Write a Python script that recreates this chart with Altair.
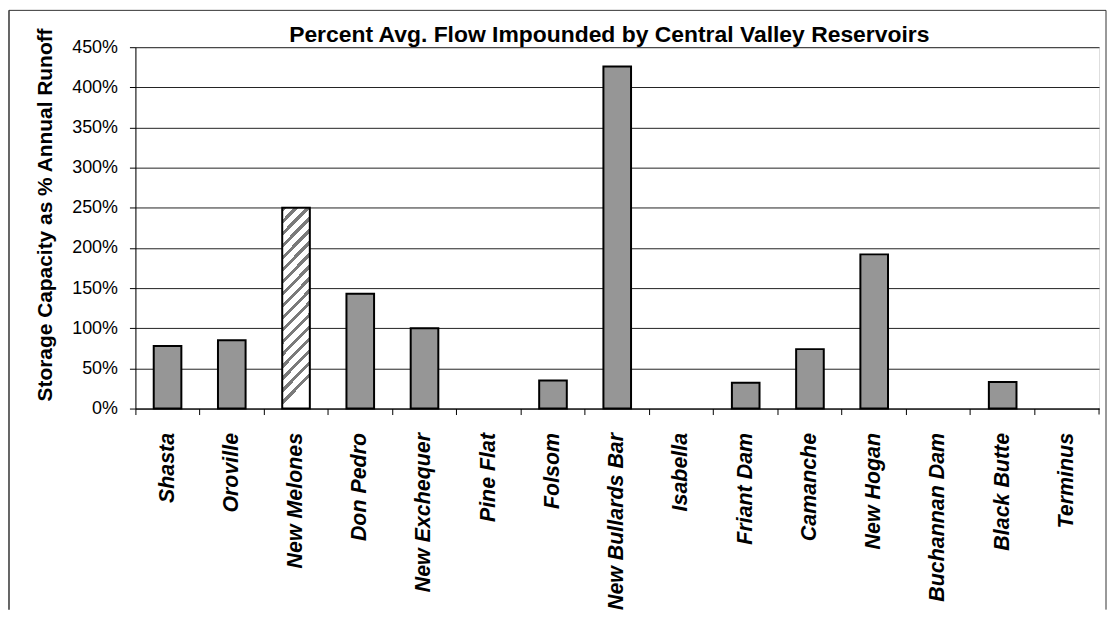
import altair as alt
import pandas as pd

# ---- data ----
reservoirs = ["Shasta", "Oroville", "New Melones", "Don Pedro", "New Exchequer",
              "Pine Flat", "Folsom", "New Bullards Bar", "Isabella", "Friant Dam",
              "Camanche", "New Hogan", "Buchannan Dam", "Black Butte", "Terminus"]
pct_runoff = [0.78, 0.85, 2.50, 1.43, 1.00, 0.0, 0.35, 4.26, 0.0, 0.32,
              0.74, 1.92, 0.0, 0.33, 0.0]
hatched_names = ["New Melones"]
y_tick_values = [0.0, 0.5, 1.0, 1.5, 2.0, 2.5, 3.0, 3.5, 4.0, 4.5]
chart_title = "Percent Avg. Flow Impounded by Central Valley Reservoirs"
y_title = "Storage Capacity as % Annual Runoff"

# ---- layout / style ----
W, H = 968, 363
FONT = "Liberation Sans"
BAR_FILL = "#969696"

df = pd.DataFrame({"reservoir": reservoirs, "pct": pct_runoff})
df["hatched"] = df["reservoir"].isin(hatched_names)

# diagonal hatch imitation using a hard-stop linear gradient (styling only)
stops = []
n_stripes = 17
for i in range(n_stripes):
    a = i / n_stripes
    b = (i + 0.38) / n_stripes
    c = (i + 1) / n_stripes
    stops += [{"offset": a, "color": "#7a7a7a"}, {"offset": b, "color": "#7a7a7a"},
              {"offset": b, "color": "#ffffff"}, {"offset": c, "color": "#ffffff"}]
hatch_fill = {"gradient": "linear", "x1": 0, "y1": 0, "x2": 0.14, "y2": 1, "stops": stops}

x_enc = alt.X(
    "reservoir:N",
    scale=alt.Scale(domain=reservoirs, paddingInner=0, paddingOuter=0),
    axis=alt.Axis(
        title=None, labelAngle=-90, labelAlign="right", labelBaseline="middle",
        labelFont=FONT, labelFontSize=21.5, labelFontWeight="bold", labelFontStyle="italic",
        labelColor="black", labelPadding=18, labelLimit=400, tickSize=6, tickColor="black",
        domainColor="black", bandPosition=0, grid=False,
    ),
)
y_enc = alt.Y(
    "pct:Q",
    scale=alt.Scale(domain=[0, 4.5], nice=False),
    axis=alt.Axis(
        values=y_tick_values, format=".0%", title=y_title,
        titleFont=FONT, titleFontSize=21, titleFontWeight="bold", titleColor="black",
        titleX=-80, titleY=168,
        labelFont=FONT, labelFontSize=18, labelColor="black", labelPadding=12,
        tickSize=6, tickColor="black", domainColor="black",
        gridColor="#222222", gridWidth=1,
    ),
)

base = alt.Chart(df).transform_filter("datum.pct > 0")
bars = base.transform_filter("!datum.hatched").mark_bar(
    width=alt.RelativeBandSize(0.43), fill=BAR_FILL, stroke="black", strokeWidth=2
).encode(x=x_enc, y=y_enc)
hatch = base.transform_filter("datum.hatched").mark_bar(
    width=alt.RelativeBandSize(0.43), fill=hatch_fill, stroke="black", strokeWidth=2
).encode(x=x_enc, y=y_enc)

one = pd.DataFrame({"t": [chart_title]})
title = alt.Chart(one).mark_text(
    font=FONT, fontSize=23, fontWeight="bold", align="center", baseline="alphabetic", color="black"
).encode(text="t:N", x=alt.value(476), y=alt.value(-5))

border_top = alt.Chart(one).mark_rule(color="#333", strokeWidth=1).encode(
    x=alt.value(-127), x2=alt.value(975), y=alt.value(-37))
border_left = alt.Chart(one).mark_rule(color="#333", strokeWidth=1.5).encode(
    x=alt.value(-127), y=alt.value(-37), y2=alt.value(565))
border_right = alt.Chart(one).mark_rule(color="#333", strokeWidth=1).encode(
    x=alt.value(975), y=alt.value(-37), y2=alt.value(565))
last_tick = alt.Chart(one).mark_rule(color="black", strokeWidth=1).encode(
    x=alt.value(W), y=alt.value(H), y2=alt.value(H + 6))

chart = alt.layer(bars, hatch, title, border_top, border_left, border_right, last_tick).properties(
    width=W, height=H, padding=0
).configure_view(stroke="#777", strokeWidth=1).configure(background="white")

chart.save("out.html", embed_options={"renderer": "svg", "actions": False})
